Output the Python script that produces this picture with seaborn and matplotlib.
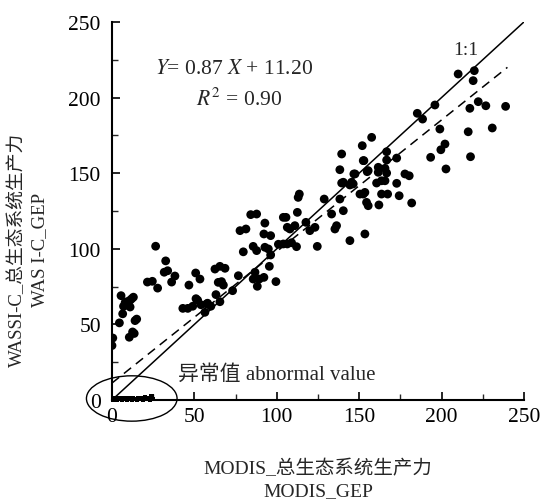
import pandas as pd
import seaborn as sns
import matplotlib.pyplot as plt
from matplotlib.patches import Ellipse
from matplotlib.ticker import MultipleLocator

# MODIS GEP (x) vs WASSI-C GEP (y)
modis_gep = [
    0, 0.5, 4.5, 5.5, 6.5, 7, 8, 9, 10, 11, 12, 13, 13.5, 14, 15, 10.5, 12.5, 11,
    21.5, 24.5, 27.7, 26.5, 31.7, 33.8, 32.6, 36.2, 38.2,
    43, 46, 46.7, 50.8, 53.4, 49, 52, 51, 54, 56.4, 57.4, 58, 60, 62.5, 63.1, 64.5,
    65.5, 65.5, 66.5, 67.6, 68.6, 73.2, 76.7,
    79.7, 77.7, 81.3, 84.2, 87.8, 85.7, 87.8, 92.8, 94.9, 96.3, 95.5, 99.5, 88.2,
    92.2, 86.8, 85.7, 89.4, 92.8, 92.2, 96.3,
    104, 105.6, 106.4, 108, 111, 112.5, 113.7, 113, 117.7, 120.1, 123.2, 104, 106.4,
    112, 124.6, 128.8, 101, 109,
    133.3, 136.3, 135.3, 138.3, 138.3, 139.4, 139.4, 140.4, 140.4, 144.4, 145.4,
    146.4, 147.5, 144.4, 150.5, 152.5, 152.5, 153.5, 153.5, 154.5, 155.5, 155.5,
    151.9, 157.6, 152.9, 146.8, 154.9,
    160.6, 163.6, 165.7, 161.6, 161.6, 165.7, 166.7, 166.7, 166.7, 172.8, 172.8,
    177.8, 180.4, 163.6, 167.3, 174.3, 162, 181.9,
    185.3, 188.5, 193.4, 196, 199, 199.6, 202.1, 202.7, 210.1, 219.9, 219.2, 216.2,
    217.2, 217.6, 222.3, 226.9, 230.8, 238.9,
]
wassi_gep = [
    36, 41, 51, 69, 57, 62, 64.5, 65, 62.5, 61.5, 67, 68, 44, 52.5, 53.5, 41.5, 45, 66,
    78, 78.5, 74, 101.7, 84.5, 85.5, 92, 78, 82,
    60.6, 60.6, 76, 84, 80, 62, 66, 67, 63, 58, 63.5, 64, 62, 86.6, 69.7, 77.8,
    88.4, 65, 78.3, 76, 87.1, 72.3, 82.2,
    98, 112, 113.1, 122.6, 123, 101.6, 98.8, 101, 99.9, 95.9, 88.4, 78.3, 75.2,
    81.1, 84.5, 80, 80, 117, 109.8, 108.7,
    120.8, 120.8, 114.2, 113.1, 115.3, 124.1, 136.2, 134, 117.5, 112, 114.2, 103.2, 103.2,
    101.4, 101.6, 132.9, 103, 104,
    123, 115.3, 113.1, 132.9, 152.3, 162.7, 143.5, 144, 125.2, 142.2, 144,
    142.9, 149.5, 105.4, 136.2, 136.2, 158.3, 137.3, 109.8, 130.7, 128.5, 151.7,
    168.2, 173.7, 158.3, 149.5, 151,
    143.5, 145, 145, 153.9, 150.6, 153.2, 150.1, 164.2, 158.7, 160, 143.3,
    149.5, 148.3, 136.2, 136.2, 135.1, 129, 130.3,
    189.6, 185.8, 160.5, 195.1, 179.2, 165.5, 169.3, 152.8, 215.6, 217.8, 211.2, 177.4,
    192.9, 160.9, 197.3, 194.6, 179.9, 194.2,
]

# abnormal values along the x axis
abn_modis = [0.5, 1, 2, 3, 4, 5, 6, 7, 8, 9, 10, 11, 12, 13, 14, 15, 16, 17,
             18, 19, 20, 21, 22, 23, 24, 25]
abn_wassi = [0, 0.5, 1, 0, 1, 0.5, 0, 1.5, 0.5, 0, 1, 0.5, 0, 1, 0.5, 0, 1.5,
             0.5, 1, 0, 2, 0.5, 1.5, 0, 2.5, 0.5]

slope, intercept, r2 = 0.87, 11.20, 0.90

df = pd.DataFrame({'MODIS': modis_gep, 'WASSI': wassi_gep})
df_abn = pd.DataFrame({'MODIS': abn_modis, 'WASSI': abn_wassi})

sns.set_style('ticks')
plt.rcParams['font.family'] = ['Liberation Serif', 'Noto Sans CJK SC']
plt.rcParams['mathtext.fontset'] = 'stix'

fig = plt.figure(figsize=(5.42, 5.02), dpi=100)
ax = fig.add_axes([0.2066, 0.2012, 0.76, 0.753])

sns.scatterplot(x='MODIS', y='WASSI', data=df, color='black', s=40,
                edgecolor='none', ax=ax)
sns.scatterplot(x='MODIS', y='WASSI', data=df_abn, color='black', s=9,
                marker='s', edgecolor='none', ax=ax, clip_on=False)

# 1:1 line and fitted line
ax.plot([0, 250], [0, 250], color='black', lw=1.1)
ax.plot([0, 240], [intercept, slope * 240 + intercept], color='black',
        lw=1.1, ls=(0, (6, 4)))

ax.add_patch(Ellipse((12, 1), 55, 30, fill=False, lw=1.0, color='black',
                     clip_on=False))

ax.text(215, 232, '1:1', fontsize=14, ha='center', va='center')
ax.text(74, 219, f'$Y$= {slope:.2f} $X$ + {intercept:.2f}', fontsize=15.5,
        ha='center', va='center')
ax.text(77, 199.5, f'$R^2$ = {r2:.2f}', fontsize=15.5, ha='center', va='center')
ax.text(40, 17, '异常值 abnormal value', fontsize=15, ha='left', va='center')

ax.set_xlim(0, 250)
ax.set_ylim(0, 250)
ax.set_xticks([0, 50, 100, 150, 200, 250])
ax.set_yticks([0, 50, 100, 150, 200, 250])
ax.xaxis.set_minor_locator(MultipleLocator(25))
ax.yaxis.set_minor_locator(MultipleLocator(25))
ax.tick_params(which='major', direction='in', length=6, width=1.2, labelsize=15.5,
               colors='black')
ax.tick_params(axis='x', which='major', pad=5)
ax.tick_params(axis='y', which='major', pad=8)
ax.tick_params(which='minor', direction='in', length=4, width=1.0)
for side in ['top', 'right']:
    ax.spines[side].set_visible(False)
for side in ['left', 'bottom']:
    ax.spines[side].set_linewidth(1.5)
    ax.spines[side].set_color('black')

ax.set_xlabel('MODIS_总生态系统生产力\nMODIS_GEP', fontsize=14, linespacing=1.4)
ax.set_ylabel('WASSI-C_总生态系统生产力\nWAS I-C_GEP', fontsize=13.5,
              linespacing=1.4)
ax.xaxis.set_label_coords(0.5, -0.155)
ax.yaxis.set_label_coords(-0.155, 0.40)

fig.savefig('out.png', dpi=100)
